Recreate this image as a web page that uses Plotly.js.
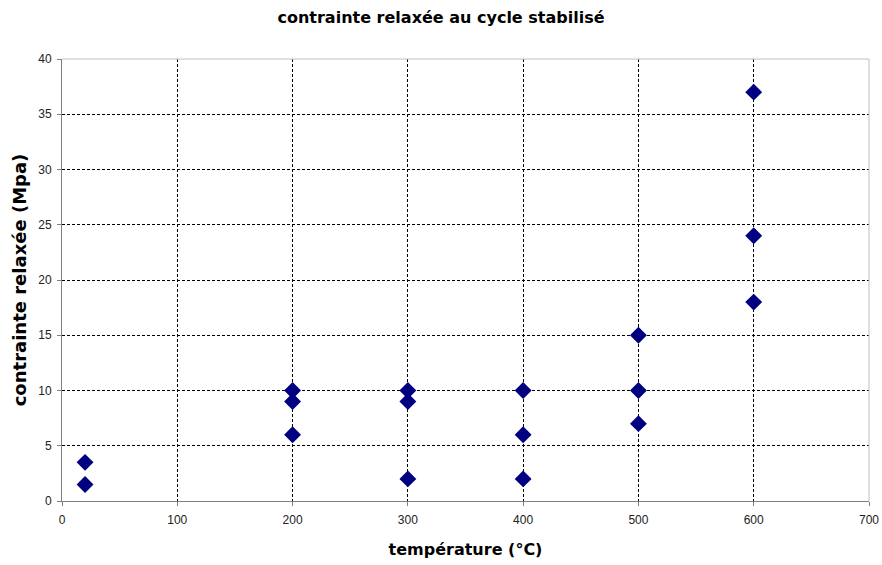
<!DOCTYPE html>
<html><head><meta charset="utf-8">
<script src="https://cdn.plot.ly/plotly-3.0.1.min.js"></script>
<style>html,body{margin:0;padding:0;background:#fff}#chart{width:882px;height:565px}</style>
</head><body><div id="chart"></div>
<script>
const temperatures = [20, 20, 200, 200, 200, 300, 300, 300, 400, 400, 400, 500, 500, 500, 600, 600, 600];
const contraintes = [3.5, 1.5, 10, 9, 6, 10, 9, 2, 10, 6, 2, 15, 10, 7, 37, 24, 18];
const titleText = "contrainte relaxée au cycle stabilisé";
const xTitle = "température (°C)";
const yTitle = "contrainte relaxée (Mpa)";

const font = "Liberation Sans, Arial, sans-serif";
const wide = "DejaVu Sans, Liberation Sans, sans-serif";
Plotly.newPlot("chart", [{
  x: temperatures, y: contraintes, type: "scatter", mode: "markers",
  marker: {symbol: "diamond", size: 13, color: "#000080"},
  hoverinfo: "x+y"
}], {
  width: 882, height: 565,
  margin: {l: 62, r: 13, t: 59, b: 64},
  paper_bgcolor: "#fff", plot_bgcolor: "#fff",
  showlegend: false,
  font: {family: font, color: "#000"},
  title: {text: titleText, font: {family: wide, size: 16, weight: "bold", color: "#000"}, x: 0.5, xanchor: "center", y: 0.97, yanchor: "middle"},
  xaxis: {
    range: [0, 700], dtick: 100, tick0: 0,
    showgrid: true, gridcolor: "#000", griddash: "3px,2px", gridwidth: 1,
    zeroline: false, showline: true, linecolor: "#808080", linewidth: 1, mirror: false,
    ticks: "outside", ticklen: 4, tickcolor: "#808080", ticklabelstandoff: 4,
    tickfont: {family: font, size: 12, color: "#222"},
    title: {text: xTitle, font: {family: wide, size: 16, weight: "bold", color: "#000"}, standoff: 17}
  },
  yaxis: {
    range: [0, 40], dtick: 5, tick0: 0,
    showgrid: true, gridcolor: "#000", griddash: "3px,2px", gridwidth: 1,
    zeroline: false, showline: true, linecolor: "#808080", linewidth: 1,
    ticks: "outside", ticklen: 4, tickcolor: "#808080", ticklabelstandoff: 3,
    tickfont: {family: font, size: 12, color: "#222"},
    title: {text: yTitle, font: {family: wide, size: 18, weight: "bold", color: "#000"}, standoff: 6}
  },
  shapes: [
    {type: "line", xref: "paper", yref: "paper", x0: 0, x1: 1, y0: 1, y1: 1, line: {color: "#c0c0c0", width: 1}},
    {type: "line", xref: "paper", yref: "paper", x0: 1, x1: 1, y0: 0, y1: 1, line: {color: "#c0c0c0", width: 1}}
  ]
}, {displayModeBar: false});
</script></body></html>
